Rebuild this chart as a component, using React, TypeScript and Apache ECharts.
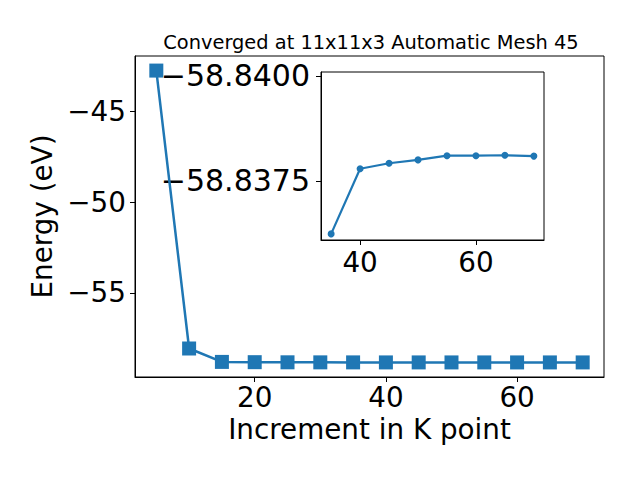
import React, { useEffect, useRef } from "react";
import * as echarts from "echarts";

const kPoints = [5, 10, 15, 20, 25, 30, 35, 40, 45, 50, 55, 60, 65, 70];
const energy = [-42.73, -58.07, -58.81, -58.825, -58.832, -58.835, -58.83624, -58.83779, -58.83792, -58.838, -58.8381, -58.8381, -58.83811, -58.83809];
const insetK = [35, 40, 45, 50, 55, 60, 65, 70];
const insetEnergy = [-58.83624, -58.83779, -58.83792, -58.838, -58.8381, -58.8381, -58.83811, -58.83809];
const mainXTicks = [20, 40, 60];
const mainYTicks = [-55, -50, -45];
const insetXTicks = [40, 60];
const insetYTicks = [-58.84, -58.8375];

const titleText = "Converged at 11x11x3 Automatic Mesh 45";
const FONT = "DejaVu Sans";
const BLUE = "#1f77b4";

const minus = (s: string) => s.replace("-", "\u2212");

export default function App() {
  const ref = useRef<HTMLDivElement>(null);
  useEffect(() => {
    if (!ref.current) return;
    const chart = echarts.init(ref.current, undefined, { renderer: "svg" });
    const axisLine = { show: true, lineStyle: { color: "#000", width: 1 } };
    const axisTick = (vals: number[]) => ({ show: true, length: 5, lineStyle: { color: "#000", width: 1 }, customValues: vals });
    chart.setOption({
      animation: false,
      backgroundColor: "#fff",
      title: {
        text: titleText,
        left: 366,
        textAlign: "center",
        top: 28,
        textStyle: { fontFamily: FONT, fontSize: 19.4, fontWeight: "normal", color: "#000" },
      },
      grid: [
        { left: 135, top: 56, width: 469, height: 321, show: true, borderColor: "#000", borderWidth: 1, backgroundColor: "transparent" },
        { left: 321, top: 72, width: 223, height: 168, show: true, borderColor: "#000", borderWidth: 1, backgroundColor: "#fff", z: 10 },
      ],
      xAxis: [
        {
          type: "value", gridIndex: 0, min: 1.75, max: 73.25,
          splitLine: { show: false }, axisLine, axisTick: axisTick(mainXTicks),
          axisLabel: { customValues: mainXTicks, fontFamily: FONT, fontSize: 27.8, color: "#000", margin: 6 },
          name: "Increment in K point", nameLocation: "middle", nameGap: 38,
          nameTextStyle: { fontFamily: FONT, fontSize: 27.8, color: "#000" },
        },
        {
          type: "value", gridIndex: 1, min: 33.25, max: 71.75, z: 10,
          splitLine: { show: false }, axisLine, axisTick: axisTick(insetXTicks),
          axisLabel: { customValues: insetXTicks, fontFamily: FONT, fontSize: 27.8, color: "#000", margin: 8 },
        },
      ],
      yAxis: [
        {
          type: "value", gridIndex: 0, min: -59.643, max: -41.925,
          splitLine: { show: false }, axisLine, axisTick: axisTick(mainYTicks),
          axisLabel: { customValues: mainYTicks, fontFamily: FONT, fontSize: 27.8, color: "#000", margin: 9, formatter: (v: number) => minus(String(v)) },
          name: "Energy (eV)", nameLocation: "middle", nameGap: 78,
          nameTextStyle: { fontFamily: FONT, fontSize: 27.8, color: "#000" },
        },
        {
          type: "value", gridIndex: 1, inverse: true, min: -58.84009, max: -58.836095, z: 10,
          splitLine: { show: false }, axisLine, axisTick: axisTick(insetYTicks),
          axisLabel: { customValues: insetYTicks, fontFamily: FONT, fontSize: 30, color: "#000", margin: 11, formatter: (v: number) => minus(v.toFixed(4)) },
        },
      ],
      series: [
        {
          type: "line", xAxisIndex: 0, yAxisIndex: 0,
          data: kPoints.map((k, i) => [k, energy[i]]),
          symbol: "rect", symbolSize: 14, color: BLUE,
          lineStyle: { color: BLUE, width: 2.5 }, itemStyle: { color: BLUE },
          z: 11,
        },
        {
          type: "line", xAxisIndex: 1, yAxisIndex: 1,
          data: insetK.map((k, i) => [k, insetEnergy[i]]),
          symbol: "circle", symbolSize: 7, color: BLUE,
          lineStyle: { color: BLUE, width: 2.2 }, itemStyle: { color: BLUE },
          z: 12,
        },
      ],
    });
    return () => chart.dispose();
  }, []);
  return <div ref={ref} style={{ width: 640, height: 480, position: "absolute", left: 0, top: 0 }} />;
}
